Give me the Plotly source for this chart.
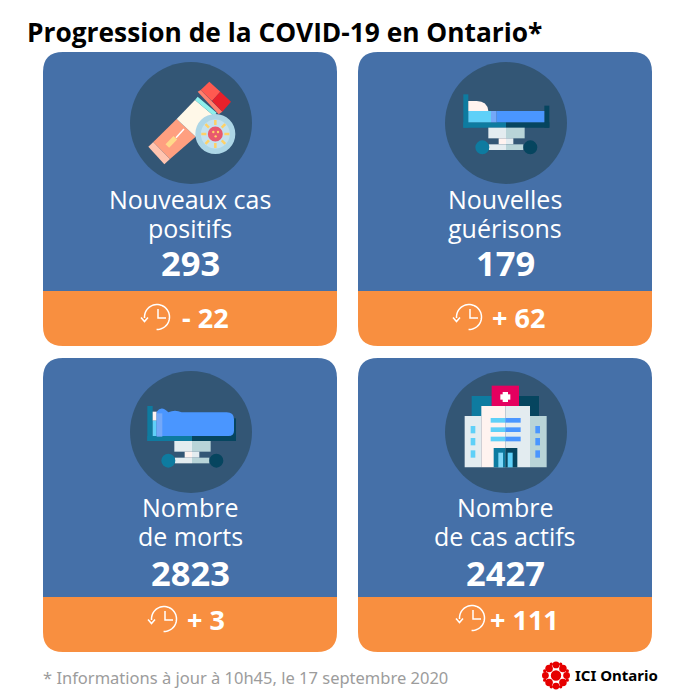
import numpy as np
import plotly.graph_objects as go

titre = "Progression de la COVID-19 en Ontario*"
note = "* Informations à jour à 10h45, le 17 septembre 2020"
marque = "ICI Ontario"

ligne1 = ["Nouveaux cas", "Nouvelles", "Nombre", "Nombre"]
ligne2 = ["positifs", "guérisons", "de morts", "de cas actifs"]
valeurs = ["293", "179", "2823", "2427"]
variations = ["- 22", "+ 62", "+ 3", "+ 111"]

BLEU = "#4570a8"
ORANGE = "#f88f40"
ROND = "#335675"
B1 = "#0e7ba0"
B2 = "#06455f"
C1 = "#5fd0f8"
C2 = "#4a96ff"
C3 = "#74a8f8"
G1 = "#fff3f0"
G2 = "#e3ecf0"
G3 = "#b8d4d8"

shapes = []


def rect(x0, y0, x1, y1, c):
    shapes.append(dict(type="rect", x0=x0, y0=y0, x1=x1, y1=y1, fillcolor=c, line_width=0))


def rond(cx, cy, r, c):
    shapes.append(dict(type="circle", x0=cx - r, y0=cy - r, x1=cx + r, y1=cy + r, fillcolor=c, line_width=0))


def poly(pts, c):
    p = "M" + " L".join(f"{x:.2f},{y:.2f}" for x, y in pts) + " Z"
    shapes.append(dict(type="path", path=p, fillcolor=c, line_width=0))


def trait(pts, c, w):
    p = "M" + " L".join(f"{x:.2f},{y:.2f}" for x, y in pts)
    shapes.append(dict(type="path", path=p, line=dict(color=c, width=w)))


def carte(x, y, h_bleu, h, r=20, w=294):
    # haut bleu, bas orange, coins arrondis
    shapes.append(dict(type="path", fillcolor=BLEU, line_width=0,
                       path=f"M{x},{y+h_bleu} L{x},{y+r} Q{x},{y} {x+r},{y} L{x+w-r},{y} Q{x+w},{y} {x+w},{y+r} L{x+w},{y+h_bleu} Z"))
    shapes.append(dict(type="path", fillcolor=ORANGE, line_width=0,
                       path=f"M{x},{y+h_bleu} L{x+w},{y+h_bleu} L{x+w},{y+h-r} Q{x+w},{y+h} {x+w-r},{y+h} L{x+r},{y+h} Q{x},{y+h} {x},{y+h-r} Z"))


def horloge(cx, cy):
    a = np.radians(np.linspace(-95, 182, 40))
    r = 12.5
    trait([(cx + r * np.sin(t), cy - r * np.cos(t)) for t in a], "white", 1.5)
    trait([(cx + 1, cy - 8), (cx + 1, cy + 1), (cx + 9, cy + 1)], "white", 1.5)
    ax, ay = cx - 12.5, cy + 2
    trait([(ax - 3.5, ay - 1.5), (ax, ay + 2.5), (ax + 3.5, ay - 1.5)], "white", 1.5)


# les icones sont dessinees en px depuis les coordonnees du zoom x3
def tube(ox, oy):
    z = lambda pts: [(ox + a / 3, oy + b / 3) for a, b in pts]
    poly(z([(355, 320), (370, 306), (420, 357), (403, 373)]), "#ffc4b0")
    poly(z([(370, 306), (440, 237), (497, 290), (420, 357)]), "#ff9f80")
    poly(z([(440, 237), (495, 180), (552, 228), (497, 290)]), "#fff8e8")
    poly(z([(495, 180), (503, 170), (560, 218), (552, 228)]), "#8ff0ec")
    poly(z([(503, 155), (512, 150), (577, 215), (566, 223)]), "#ff7f6e")
    poly(z([(512, 150), (538, 125), (571, 155), (546, 183)]), "#ff5a50")
    poly(z([(546, 183), (571, 155), (603, 185), (577, 215)]), "#e8202a")
    trait(z([(438, 293), (462, 267)]), "white", 1.5)
    trait(z([(412, 318), (436, 293)]), "#ffd98a", 5)
    rond(ox + 556 / 3, oy + 282 / 3, 20, "#add6e6")
    rond(ox + 556 / 3, oy + 282 / 3, 14.5, "#c5e2ee")
    for d in np.radians(np.arange(0, 360, 45)):
        trait([(ox + 556 / 3 + 9 * np.cos(d), oy + 282 / 3 + 9 * np.sin(d)),
               (ox + 556 / 3 + 14 * np.cos(d), oy + 282 / 3 + 14 * np.sin(d))], "#ffd166", 2.5)
    rond(ox + 556 / 3, oy + 282 / 3, 7.5, "#e8596e")
    for a, b in [(550, 276), (564, 276), (557, 289)]:
        rond(ox + a / 3, oy + b / 3, 1.2, "#ffd166")


def pied_lit(ox, oy, gx, dy):
    # gx = axe vertical du lit, dy = haut du pied (zoom)
    z = lambda v: ox + v / 3
    w = lambda v: oy + v / 3
    rect(z(gx - 53), w(dy), z(gx), w(dy + 32), G2)
    rect(z(gx), w(dy), z(gx + 56), w(dy + 32), G3)
    rect(z(gx - 22), w(dy + 32), z(gx), w(dy + 50), G1)
    rect(z(gx), w(dy + 32), z(gx + 22), w(dy + 50), G2)
    rect(z(gx - 52), w(dy + 50), z(gx), w(dy + 67), G2)
    rect(z(gx), w(dy + 50), z(gx + 52), w(dy + 67), G3)
    rond(z(gx - 71), w(dy + 59), 7, B1)
    rond(z(gx + 73), w(dy + 59), 7, B2)


def lit(ox, oy):
    z = lambda v: ox + v / 3
    w = lambda v: oy + v / 3
    rect(z(340), w(163), z(355), w(263), B1)
    rect(z(583), w(197), z(598), w(263), B2)
    rect(z(340), w(247), z(468), w(263), B1)
    rect(z(468), w(247), z(598), w(263), B2)
    shapes.append(dict(type="path", fillcolor=G1, line_width=0,
                       path=f"M{z(355)},{w(213)} L{z(355)},{w(183)} L{z(380)},{w(183)} Q{z(412)},{w(183)} {z(415)},{w(213)} Z"))
    rect(z(355), w(213), z(423), w(247), C1)
    rect(z(423), w(213), z(440), w(247), C3)
    rect(z(440), w(213), z(583), w(247), C2)
    pied_lit(ox, oy, 468, 263)


def lit_couvert(ox, oy):
    z = lambda v: ox + v / 3
    w = lambda v: oy + v / 3
    rect(z(352), w(168), z(368), w(273), B1)
    rect(z(603), w(205), z(618), w(273), B2)
    rect(z(352), w(258), z(486), w(273), B1)
    rect(z(486), w(258), z(618), w(273), B2)
    rect(z(368), w(185), z(380), w(212), G1)
    rect(z(368), w(212), z(380), w(258), C1)
    shapes.append(dict(type="path", fillcolor=C2, line_width=0,
                       path=f"M{z(380)},{w(258)} L{z(380)},{w(185)} Q{z(395)},{w(165)} {z(415)},{w(187)} Q{z(435)},{w(178)} {z(455)},{w(187)} L{z(590)},{w(187)} Q{z(612)},{w(187)} {z(612)},{w(208)} L{z(612)},{w(242)} Q{z(612)},{w(258)} {z(595)},{w(258)} Z"))
    rect(z(380), w(190), z(397), w(260), C3)
    pied_lit(ox, oy, 486, 273)


def hopital(ox, oy):
    z = lambda v: ox + v / 3
    w = lambda v: oy + v / 3
    rect(z(365), w(138), z(425), w(198), B1)
    rect(z(507), w(138), z(567), w(198), B2)
    rect(z(425), w(107), z(507), w(170), "#e5005f")
    rect(z(458), w(126), z(474), w(156), "white")
    rect(z(451), w(133), z(481), w(149), "white")
    rect(z(344), w(198), z(394), w(352), G2)
    rect(z(540), w(198), z(590), w(352), G3)
    rect(z(394), w(168), z(466), w(352), G1)
    rect(z(466), w(168), z(540), w(352), G2)
    for b in [204, 232, 260]:
        rect(z(422), w(b), z(466), w(b + 14), C1)
        rect(z(466), w(b), z(512), w(b + 14), C2)
    for b in [228, 264, 301]:
        rect(z(362), w(b), z(376), w(b + 22), C1)
        rect(z(556), w(b), z(570), w(b + 22), C2)
    rect(z(431), w(294), z(466), w(352), B1)
    rect(z(466), w(294), z(502), w(352), B2)
    rect(z(445), w(308), z(459), w(352), "#7fd8f8")
    rect(z(473), w(308), z(488), w(352), C1)


def gem(cx, cy):
    rouge = "#e60000"
    rond(cx, cy, 5.2, rouge)
    for d in np.radians(np.arange(0, 360, 90)):
        rond(cx + 10.6 * np.cos(d), cy + 10.6 * np.sin(d), 3.4, rouge)
    for d in np.radians(np.arange(45, 360, 90)):
        rond(cx + 9.8 * np.cos(d), cy + 9.8 * np.sin(d), 3.8, rouge)
    for d in np.radians(np.arange(22.5, 360, 45)):
        rond(cx + 12.2 * np.cos(d), cy + 12.2 * np.sin(d), 1.7, rouge)


# x, y, hauteur bleue, hauteur totale
cartes = [(43, 52, 239, 294), (358, 52, 239, 294), (43, 358, 239, 294), (358, 358, 239, 294)]
ronds = [(191, 123), (506, 123), (191, 432), (506, 432)]
pos_texte = [(199, 228, 262, 317), (199, 228, 262, 317), (507, 536, 572, 619), (507, 536, 572, 619)]
pos_horloge = [(157, 317), (469, 317), (164, 619), (472, 618)]
pos_delta = [180, 490, 185, 488]

for c, r in zip(cartes, ronds):
    carte(*c)
    rond(r[0], r[1], 61, ROND)

tube(30, 40)
lit(350, 40)
lit_couvert(30, 350)
hopital(350, 350)

for h in pos_horloge:
    horloge(*h)
gem(556, 675.5)

annots = []


def texte(x, y, s, size, color="white", bold=False, anchor="center", fam="Open Sans"):
    annots.append(dict(x=x, y=y, xref="x", yref="y", text=f"<b>{s}</b>" if bold else s,
                       showarrow=False, xanchor=anchor, yanchor="middle",
                       font=dict(family=fam, size=size, color=color)))


for i in range(4):
    cx = cartes[i][0] + 147
    p = pos_texte[i]
    texte(cx, p[0], ligne1[i], 25)
    texte(cx, p[1], ligne2[i], 25)
    texte(cx, p[2], valeurs[i], 34.5, bold=True)
    texte(pos_delta[i], p[3], variations[i], 27, bold=True, anchor="left")

texte(25, 32, titre, 26.3, color="black", bold=True, anchor="left")
texte(41, 677, note, 16.5, color="#9c9c9c", anchor="left", fam="Noto Sans")
texte(573, 675, marque, 15, color="black", bold=True, anchor="left", fam="Noto Sans")

fig = go.Figure()
fig.update_layout(width=700, height=700, margin=dict(l=0, r=0, t=0, b=0),
                  paper_bgcolor="white", plot_bgcolor="white",
                  showlegend=False, shapes=shapes, annotations=annots)
fig.update_xaxes(range=[0, 700], visible=False, fixedrange=True)
fig.update_yaxes(range=[700, 0], visible=False, fixedrange=True)

fig.write_html("out.html", config={"displayModeBar": False},
               post_script="document.body.style.margin='0';")
